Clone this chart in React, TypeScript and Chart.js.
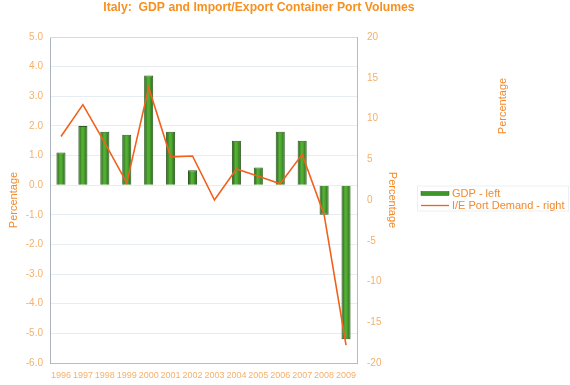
import React, { useEffect, useRef } from 'react';
import { Chart, registerables } from 'chart.js';

Chart.register(...registerables);

const chartTitle = 'Italy:  GDP and Import/Export Container Port Volumes';
const years = ['1996', '1997', '1998', '1999', '2000', '2001', '2002', '2003', '2004', '2005', '2006', '2007', '2008', '2009'];
const gdpLeft = [1.1, 2.0, 1.8, 1.7, 3.7, 1.8, 0.5, 0.0, 1.5, 0.6, 1.8, 1.5, -1.0, -5.2];
const portDemandRight = [7.8, 11.7, 7.0, 2.1, 13.8, 5.3, 5.4, 0.0, 3.8, 2.9, 2.0, 5.6, -1.8, -17.8];
const leftRange = [-6, 5];
const rightRange = [-20, 20];
const seriesNames = ['GDP - left', 'I/E Port Demand - right'];
const axisTitle = 'Percentage';

const FONT = '"Liberation Sans", Arial, Helvetica, sans-serif';
const TICK_COLOR = '#f5b06a';
const TITLE_COLOR = '#f28a2c';
const GREEN = '#3f962a';
const GREEN_EDGE = '#2c5a20';
const LINE_COLOR = '#f2601e';

const extraPlugin = {
  id: 'extraText',
  afterDraw(chart: any) {
    const { ctx, chartArea } = chart;
    ctx.save();
    // top border of plot
    ctx.strokeStyle = '#d3dae3';
    ctx.lineWidth = 1;
    ctx.beginPath();
    ctx.moveTo(chartArea.left, chartArea.top + 0.5);
    ctx.lineTo(chartArea.right, chartArea.top + 0.5);
    ctx.stroke();

    // legend (drawn from the datasets)
    const ds = chart.data.datasets;
    const lx = 421;
    const ly = 193.5;
    const rowGap = 12;
    ctx.strokeStyle = '#eceff3';
    ctx.strokeRect(417.5, ly - 7.5, 151, 25);
    ctx.font = `11px ${FONT}`;
    ctx.textAlign = 'left';
    ctx.textBaseline = 'middle';
    ds.forEach((d: any, i: number) => {
      const y = ly + i * rowGap;
      if (d.type === 'bar') {
        ctx.fillStyle = GREEN;
        ctx.fillRect(lx, y - 2, 28, 4);
        ctx.strokeStyle = GREEN_EDGE;
        ctx.lineWidth = 0.5;
        ctx.strokeRect(lx, y - 2, 28, 4);
      } else {
        ctx.strokeStyle = d.borderColor;
        ctx.lineWidth = 1.3;
        ctx.beginPath();
        ctx.moveTo(lx, y);
        ctx.lineTo(lx + 28, y);
        ctx.stroke();
      }
      ctx.fillStyle = TITLE_COLOR;
      ctx.fillText(d.label, lx + 31, y + 0.5);
    });

    // title
    ctx.fillStyle = '#f7901f';
    ctx.font = `bold 12.2px ${FONT}`;
    ctx.textAlign = 'center';
    ctx.textBaseline = 'middle';
    ctx.fillText(chartTitle, 259, 8);
    // stray label
    ctx.translate(503, 106);
    ctx.rotate(-Math.PI / 2);
    ctx.font = `11px ${FONT}`;
    ctx.fillStyle = TITLE_COLOR;
    ctx.fillText(axisTitle, 0, 0);
    ctx.restore();
  },
};

export default function App() {
  const ref = useRef<HTMLCanvasElement | null>(null);

  useEffect(() => {
    if (!ref.current) return;
    const barFill = (c: any) => {
      const chart = c.chart;
      const xs = chart.scales?.x;
      if (!chart.chartArea || c.type !== 'data' || !xs) return GREEN;
      const cx = xs.getPixelForValue(c.dataIndex);
      const hw = ((xs.width / years.length) * 0.9 * 0.46) / 2;
      const g = chart.ctx.createLinearGradient(cx - hw, 0, cx + hw, 0);
      g.addColorStop(0, '#1f5514');
      g.addColorStop(0.4, '#56b236');
      g.addColorStop(0.6, '#4ea830');
      g.addColorStop(1, '#24601a');
      return g;
    };

    const chart = new Chart(ref.current, {
      type: 'bar',
      data: {
        labels: years,
        datasets: [
          {
            type: 'bar',
            label: seriesNames[0],
            data: gdpLeft,
            yAxisID: 'y',
            backgroundColor: barFill,
            borderColor: GREEN_EDGE,
            borderWidth: 1,
            categoryPercentage: 0.9,
            barPercentage: 0.46,
            order: 1,
          } as any,
          {
            type: 'line',
            label: seriesNames[1],
            data: portDemandRight,
            yAxisID: 'y1',
            borderColor: LINE_COLOR,
            backgroundColor: LINE_COLOR,
            borderWidth: 1.6,
            pointRadius: 0,
            tension: 0,
            order: 0,
          } as any,
        ],
      },
      options: {
        responsive: false,
        animation: false,
        layout: { padding: { top: 37, left: 7, bottom: 0, right: 171 } },
        plugins: {
          title: { display: false },
          tooltip: { enabled: false },
          legend: { display: false },
        },
        scales: {
          x: {
            type: 'category',
            offset: true,
            grid: { display: false, drawTicks: false },
            border: { color: '#b4bcc8' },
            ticks: {
              color: TICK_COLOR,
              font: { family: FONT, size: 9 },
              padding: 7,
              maxRotation: 0,
              autoSkip: false,
            },
            afterFit: (s: any) => {
              s.height = 22;
            },
          },
          y: {
            position: 'left',
            min: leftRange[0],
            max: leftRange[1],
            grid: { color: '#e8edf3', drawTicks: false },
            border: { color: '#aab3c0' },
            ticks: {
              stepSize: 1,
              color: TICK_COLOR,
              font: { family: FONT, size: 10 },
              padding: 7,
              callback: (v: any) => Number(v).toFixed(1),
            },
            title: {
              display: true,
              text: axisTitle,
              color: TITLE_COLOR,
              font: { family: FONT, size: 11 },
              padding: { top: 0, bottom: 0 },
            },
            afterFit: (s: any) => {
              s.width = 43;
            },
          },
          y1: {
            position: 'right',
            min: rightRange[0],
            max: rightRange[1],
            grid: { drawOnChartArea: false, drawTicks: false },
            border: { color: '#b4bcc8' },
            ticks: {
              stepSize: 5,
              color: TICK_COLOR,
              font: { family: FONT, size: 10 },
              padding: 10,
            },
            title: {
              display: true,
              text: axisTitle,
              color: TITLE_COLOR,
              font: { family: FONT, size: 11 },
              padding: { top: 0, bottom: 0 },
            },
            afterFit: (s: any) => {
              s.width = 42;
            },
          },
        },
      },
      plugins: [extraPlugin],
    } as any);
    return () => chart.destroy();
  }, []);

  return (
    <div style={{ position: 'absolute', left: 0, top: 0, width: 570, height: 385, background: '#fff' }}>
      <canvas ref={ref} width={570} height={385} />
    </div>
  );
}
